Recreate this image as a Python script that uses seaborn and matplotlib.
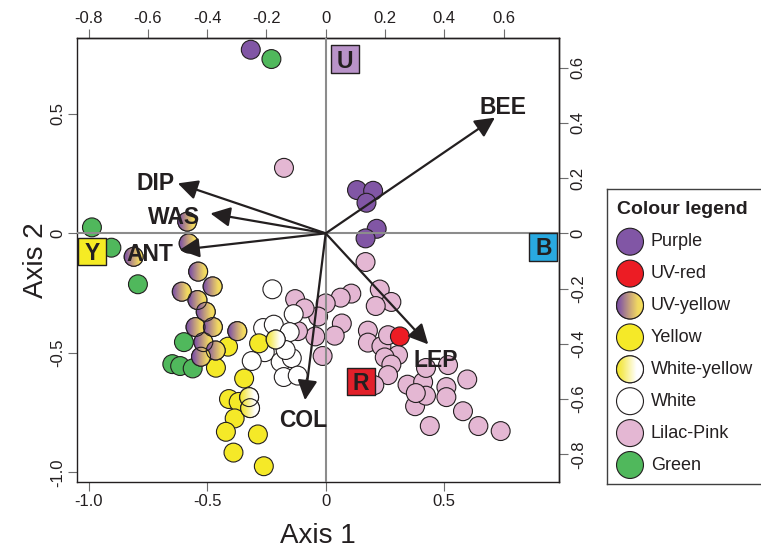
import numpy as np
import pandas as pd
import matplotlib
matplotlib.use("Agg")
import matplotlib.pyplot as plt
import seaborn as sns
from matplotlib.colors import LinearSegmentedColormap
from matplotlib.patches import Circle
from matplotlib.transforms import ScaledTranslation

# Site scores (Axis 1, Axis 2), one pair of lists per colour group
purple_x = [-0.316, 0.132, 0.200, 0.172, 0.215, 0.168]
purple_y = [0.768, 0.181, 0.178, 0.128, 0.019, -0.021]

uvred_x = [0.313]
uvred_y = [-0.431]

uvyellow_x = [-0.584, -0.578, -0.810, -0.538, -0.477, -0.607, -0.541, -0.506,
              -0.549, -0.476, -0.373, -0.516, -0.464, -0.526]
uvyellow_y = [0.049, -0.042, -0.098, -0.160, -0.222, -0.244, -0.279, -0.328,
              -0.392, -0.392, -0.409, -0.455, -0.490, -0.516]

yellow_x = [-0.412, -0.281, -0.463, -0.344, -0.408, -0.367, -0.384, -0.421,
            -0.286, -0.389, -0.261]
yellow_y = [-0.474, -0.460, -0.562, -0.607, -0.693, -0.705, -0.774, -0.830,
            -0.841, -0.917, -0.974]

whiteyellow_x = [-0.211, -0.323, -0.319]
whiteyellow_y = [-0.444, -0.685, -0.731]

white_x = [-0.225, -0.135, -0.264, -0.219, -0.152, -0.257, -0.312, -0.190,
           -0.143, -0.177, -0.118, -0.169]
white_y = [-0.234, -0.338, -0.396, -0.382, -0.413, -0.497, -0.534, -0.538,
           -0.522, -0.601, -0.595, -0.488]

pink_x = [-0.176, 0.168, 0.228, 0.108, 0.063, 0.277, 0.211, 0.000, -0.032, 0.068,
          0.038, -0.044, -0.013, 0.178, 0.178, 0.235, 0.263, 0.305, 0.249, 0.277,
          0.263, 0.205, 0.345, 0.411, 0.423, 0.516, 0.377, 0.423, 0.380, 0.509,
          0.509, 0.597, 0.579, 0.439, 0.644, 0.738, -0.129, -0.089, -0.117]
pink_y = [0.274, -0.120, -0.235, -0.252, -0.269, -0.287, -0.304, -0.293, -0.348, -0.377,
          -0.428, -0.431, -0.513, -0.407, -0.457, -0.472, -0.426, -0.509, -0.519, -0.549,
          -0.593, -0.635, -0.633, -0.622, -0.563, -0.551, -0.723, -0.679, -0.668, -0.643,
          -0.685, -0.611, -0.744, -0.806, -0.806, -0.827, -0.275, -0.314, -0.409]

green_x = [-0.229, -0.986, -0.904, -0.792, -0.598, -0.647, -0.614, -0.561]
green_y = [0.729, 0.025, -0.060, -0.213, -0.455, -0.547, -0.555, -0.565]

# Pollinator vectors (top / right axis units)
vec_names = ["BEE", "DIP", "WAS", "ANT", "COL", "LEP"]
vec_x = [0.571, -0.499, -0.389, -0.493, -0.070, 0.346]
vec_y = [0.419, 0.181, 0.072, -0.060, -0.604, -0.402]

# Colour space corners
corner_names = ["U", "B", "Y", "R"]
corner_x = [0.082, 0.918, -0.985, 0.148]
corner_y = [0.729, -0.057, -0.076, -0.620]

legend_labels = ["Purple", "UV-red", "UV-yellow", "Yellow", "White-yellow",
                 "White", "Lilac-Pink", "Green"]

bottom_ticks = [-1.0, -0.5, 0, 0.5]
bottom_labels = ["-1.0", "-0.5", "0", "0.5"]
left_ticks = [-1.0, -0.5, 0, 0.5]
left_labels = ["-1.0", "-0.5", "0", "0.5"]
top_ticks = [-0.8, -0.6, -0.4, -0.2, 0, 0.2, 0.4, 0.6]
top_labels = ["-0.8", "-0.6", "-0.4", "-0.2", "0", "0.2", "0.4", "0.6"]
right_ticks = [-0.8, -0.6, -0.4, -0.2, 0, 0.2, 0.4, 0.6]
right_labels = ["-0.8", "-0.6", "-0.4", "-0.2", "0", "0.2", "0.4", "0.6"]

# styling
EDGE = "#231f20"
colours = {"Purple": "#8156a5", "UV-red": "#ec1c24", "UV-yellow": "#c39a7c",
           "Yellow": "#f5e928", "White-yellow": "#fbf6b0", "White": "#ffffff",
           "Lilac-Pink": "#e4b7d3", "Green": "#50b85c"}
corner_cols = {"U": "#b993c9", "B": "#29a9e0", "Y": "#f5eb24", "R": "#e2202a"}
uv_cmap = LinearSegmentedColormap.from_list(
    "uvy", [(0, "#7a4c9e"), (0.12, "#8a5fa0"), (0.5, "#c8a47a"), (0.8, "#f1d862"), (1, "#f5de5a")])
wy_cmap = LinearSegmentedColormap.from_list(
    "wy", [(0, "#f3e62c"), (0.25, "#f6ec6a"), (0.75, "#ffffff"), (1, "#ffffff")])
KX, KY = 1.25, 1.155   # scaling of vectors into score units

sns.set_theme(style="white")
plt.rcParams["font.family"] = ["Liberation Sans", "DejaVu Sans"]

fig = plt.figure(figsize=(7.61, 5.5), dpi=100)
ax = fig.add_axes([77 / 761, 1 - 482 / 550, 482 / 761, 444 / 550])
ax.set_xlim(-1.049, 0.984)
ax.set_ylim(-1.04, 0.817)

groups = [("Lilac-Pink", pink_x, pink_y), ("White", white_x, white_y),
          ("Yellow", yellow_x, yellow_y), ("Green", green_x, green_y),
          ("UV-yellow", uvyellow_x, uvyellow_y), ("White-yellow", whiteyellow_x, whiteyellow_y),
          ("Purple", purple_x, purple_y), ("UV-red", uvred_x, uvred_y)]
df = pd.concat([pd.DataFrame({"x": gx, "y": gy, "colour": name}) for name, gx, gy in groups],
               ignore_index=True)

R_PT = 13.6
sns.scatterplot(data=df, x="x", y="y", hue="colour", palette=colours, s=R_PT ** 2,
                edgecolor=EDGE, linewidth=0.8, legend=False, ax=ax, zorder=2)


def gradient_dots(a, xs, ys, cmap, diam_px, z):
    grad = cmap(np.linspace(0, 1, 64))[None, :, :3]
    r = diam_px / 2
    for x, y in zip(xs, ys):
        p = a.transData.transform((x, y))
        (x0, y0), (x1, y1) = a.transData.inverted().transform([p - r - 2, p + r + 2])
        circ = Circle((0, 0), r / fig.dpi,
                      transform=fig.dpi_scale_trans + ScaledTranslation(x, y, a.transData),
                      fc="none", ec=EDGE, lw=0.8, zorder=z + 0.1)
        im = a.imshow(grad, extent=[x0 + (x1 - x0) * 0.09, x1 - (x1 - x0) * 0.09, y0, y1],
                      aspect="auto", interpolation="bilinear", zorder=z)
        im.set_clip_path(circ)
        a.add_patch(circ)


gradient_dots(ax, uvyellow_x, uvyellow_y, uv_cmap, R_PT * 100 / 72, 2.2)
gradient_dots(ax, whiteyellow_x, whiteyellow_y, wy_cmap, R_PT * 100 / 72, 2.2)
ax.set_xlim(-1.049, 0.984)
ax.set_ylim(-1.04, 0.817)

ax.axhline(0, color="#8c8c8c", lw=1.5, zorder=3)
ax.axvline(0, color="#8c8c8c", lw=1.5, zorder=3)

# vectors
label_off = [(8, 10), (-22, 0), (-36, -4), (-30, -5), (-2, -20), (8, -16)]
for name, vx, vy, off in zip(vec_names, vec_x, vec_y, label_off):
    ax.annotate("", xy=(vx * KX, vy * KY), xytext=(0, 0),
                arrowprops=dict(arrowstyle="-|>,head_length=0.6,head_width=0.3",
                                color=EDGE, lw=1.6, shrinkA=0, shrinkB=0,
                                mutation_scale=20), zorder=4)
    ax.annotate(name, xy=(vx * KX, vy * KY), xytext=off, textcoords="offset pixels",
                ha="center", va="center", fontsize=16.5, fontweight="bold",
                color=EDGE, zorder=5)

# colour space corners
sns.scatterplot(x=corner_x, y=corner_y, hue=corner_names, palette=corner_cols, marker="s",
                s=400, edgecolor=EDGE, linewidth=1.0, legend=False, ax=ax, zorder=5)
for name, cx, cy in zip(corner_names, corner_x, corner_y):
    ax.annotate(name, xy=(cx, cy), xytext=(0, -2), textcoords="offset pixels",
                ha="center", va="center", fontsize=16.5, fontweight="bold",
                color=EDGE, zorder=6)

# axes, ticks
ax.set_xticks(bottom_ticks, bottom_labels)
ax.set_yticks(left_ticks, left_labels, rotation=90, va="center")
ax.set_xlabel("Axis 1", fontsize=20, color=EDGE, labelpad=10)
ax.set_ylabel("Axis 2", fontsize=20, color=EDGE, labelpad=1)

top = ax.secondary_xaxis("top", functions=(lambda v: v / KX, lambda v: v * KX))
top.set_xticks(top_ticks, top_labels)
right = ax.secondary_yaxis("right", functions=(lambda v: v / KY, lambda v: v * KY))
right.set_yticks(right_ticks, right_labels, rotation=90, va="center")

for a in (ax, top, right):
    a.tick_params(direction="out", length=6.5, width=0.8, color="#6d6d6d",
                  labelcolor=EDGE, labelsize=12, pad=2, which="both")
    for sp in a.spines.values():
        sp.set_color(EDGE)
        sp.set_linewidth(1.0)
ax.tick_params(top=False, right=False, bottom=True, left=True)

# legend panel
lax = fig.add_axes([607 / 761, 1 - 484 / 550, 200 / 761, 295 / 550])
lax.set_xlim(607, 807)
lax.set_ylim(484, 189)
lax.set_xticks([])
lax.set_yticks([])
for sp in lax.spines.values():
    sp.set_color("#404040")
    sp.set_linewidth(1.0)
leg_y = [241.7 + 31.9 * i for i in range(len(legend_labels))]
sns.scatterplot(x=[630] * len(legend_labels), y=leg_y, hue=legend_labels, palette=colours,
                s=19.4 ** 2, edgecolor=EDGE, linewidth=0.8, legend=False, ax=lax, zorder=2)
gradient_dots(lax, [630], [leg_y[2]], uv_cmap, 19.4 * 100 / 72, 2.2)
gradient_dots(lax, [630], [leg_y[4]], wy_cmap, 19.4 * 100 / 72, 2.2)
lax.set_xlim(607, 807)
lax.set_ylim(484, 189)
lax.text(617, 210, "Colour legend", fontsize=14, fontweight="bold", color=EDGE,
         ha="left", va="center")
for lab, yy in zip(legend_labels, leg_y):
    lax.text(651, yy, lab, fontsize=13, color=EDGE, ha="left", va="center")

fig.savefig("out.png", dpi=100)
